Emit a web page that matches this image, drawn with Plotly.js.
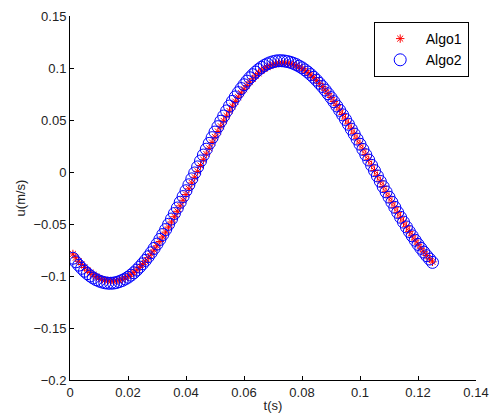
<!DOCTYPE html>
<html>
<head>
<meta charset="utf-8">
<script src="https://cdn.plot.ly/plotly-3.0.1.min.js"></script>
<style>html,body{margin:0;padding:0;background:#fff;}#chart{width:489px;height:417px;}</style>
</head>
<body>
<div id="chart"></div>
<script>
// time samples (s)
const t = [0.001,0.002,0.003,0.004,0.005,0.006,0.007,0.008,0.009,0.010,
0.011,0.012,0.013,0.014,0.015,0.016,0.017,0.018,0.019,0.020,
0.021,0.022,0.023,0.024,0.025,0.026,0.027,0.028,0.029,0.030,
0.031,0.032,0.033,0.034,0.035,0.036,0.037,0.038,0.039,0.040,
0.041,0.042,0.043,0.044,0.045,0.046,0.047,0.048,0.049,0.050,
0.051,0.052,0.053,0.054,0.055,0.056,0.057,0.058,0.059,0.060,
0.061,0.062,0.063,0.064,0.065,0.066,0.067,0.068,0.069,0.070,
0.071,0.072,0.073,0.074,0.075,0.076,0.077,0.078,0.079,0.080,
0.081,0.082,0.083,0.084,0.085,0.086,0.087,0.088,0.089,0.090,
0.091,0.092,0.093,0.094,0.095,0.096,0.097,0.098,0.099,0.100,
0.101,0.102,0.103,0.104,0.105,0.106,0.107,0.108,0.109,0.110,
0.111,0.112,0.113,0.114,0.115,0.116,0.117,0.118,0.119,0.120,
0.121,0.122,0.123,0.124,0.125];

// Algo1 (red asterisks), u in m/s
const algo1 = [-0.0788,-0.0824,-0.0858,-0.0889,-0.0918,-0.0944,-0.0967,-0.0987,-0.1005,-0.1020,
-0.1032,-0.1041,-0.1047,-0.1050,-0.1050,-0.1047,-0.1041,-0.1032,-0.1020,-0.1005,
-0.0987,-0.0967,-0.0944,-0.0918,-0.0889,-0.0858,-0.0824,-0.0788,-0.0750,-0.0710,
-0.0668,-0.0624,-0.0578,-0.0530,-0.0481,-0.0430,-0.0378,-0.0326,-0.0272,-0.0217,
-0.0162,-0.0106,-0.0051,0.0006,0.0062,0.0118,0.0173,0.0228,0.0283,0.0336,
0.0389,0.0440,0.0491,0.0539,0.0587,0.0633,0.0677,0.0719,0.0758,0.0796,
0.0831,0.0864,0.0895,0.0923,0.0948,0.0971,0.0991,0.1008,0.1022,0.1034,
0.1042,0.1047,0.1050,0.1049,0.1046,0.1041,0.1033,0.1022,0.1009,0.0994,
0.0976,0.0956,0.0933,0.0908,0.0881,0.0852,0.0821,0.0788,0.0753,0.0717,
0.0678,0.0638,0.0596,0.0553,0.0509,0.0463,0.0416,0.0368,0.0320,0.0270,
0.0220,0.0169,0.0118,0.0067,0.0015,-0.0036,-0.0087,-0.0139,-0.0190,-0.0240,
-0.0290,-0.0339,-0.0388,-0.0435,-0.0481,-0.0526,-0.0571,-0.0613,-0.0654,-0.0694,
-0.0732,-0.0768,-0.0802,-0.0834,-0.0864];

// Algo2 (blue circles), u in m/s
const algo2 = [-0.0829,-0.0864,-0.0896,-0.0926,-0.0954,-0.0978,-0.1000,-0.1019,-0.1035,-0.1048,
-0.1058,-0.1065,-0.1069,-0.1070,-0.1068,-0.1063,-0.1054,-0.1043,-0.1029,-0.1012,
-0.0992,-0.0969,-0.0943,-0.0914,-0.0883,-0.0850,-0.0814,-0.0776,-0.0735,-0.0693,
-0.0648,-0.0601,-0.0553,-0.0503,-0.0452,-0.0399,-0.0346,-0.0291,-0.0236,-0.0180,
-0.0123,-0.0066,-0.0009,0.0049,0.0106,0.0163,0.0219,0.0275,0.0330,0.0384,
0.0436,0.0488,0.0538,0.0587,0.0634,0.0679,0.0722,0.0763,0.0802,0.0839,
0.0874,0.0906,0.0935,0.0961,0.0985,0.1006,0.1024,0.1039,0.1051,0.1060,
0.1067,0.1070,0.1070,0.1067,0.1062,0.1055,0.1045,0.1033,0.1018,0.1002,
0.0982,0.0961,0.0937,0.0911,0.0883,0.0853,0.0822,0.0788,0.0752,0.0715,
0.0676,0.0635,0.0593,0.0550,0.0505,0.0459,0.0412,0.0365,0.0316,0.0267,
0.0217,0.0166,0.0115,0.0064,0.0013,-0.0038,-0.0090,-0.0141,-0.0191,-0.0242,
-0.0291,-0.0340,-0.0389,-0.0436,-0.0482,-0.0528,-0.0572,-0.0614,-0.0656,-0.0696,
-0.0734,-0.0770,-0.0805,-0.0837,-0.0869];

const seriesNames = ['Algo1', 'Algo2'];
const xTicks = [0, 0.02, 0.04, 0.06, 0.08, 0.1, 0.12, 0.14];
const xTickText = ['0', '0.02', '0.04', '0.06', '0.08', '0.1', '0.12', '0.14'];
const yTicks = [-0.2, -0.15, -0.1, -0.05, 0, 0.05, 0.1, 0.15];
const yTickText = ['\u22120.2', '\u22120.15', '\u22120.1', '\u22120.05', '0', '0.05', '0.1', '0.15'];

const FONT = 'Liberation Sans, Arial, Helvetica, sans-serif';

const traces = [
  {
    x: t, y: algo1, name: seriesNames[0], type: 'scatter', mode: 'markers',
    marker: {symbol: 'asterisk-open', size: 7, color: '#ff0000', line: {color: '#ff0000', width: 1}}
  },
  {
    x: t, y: algo2, name: seriesNames[1], type: 'scatter', mode: 'markers',
    marker: {symbol: 'circle-open', size: 12, color: '#0000ff', line: {color: '#0000ff', width: 1}}
  }
];

const axisCommon = {
  showgrid: false, zeroline: false, showline: true, linecolor: '#000', linewidth: 1,
  ticks: 'inside', ticklen: 4, tickcolor: '#000', tickwidth: 1, mirror: false,
  tickfont: {family: FONT, size: 13, color: '#222'}
};

const layout = {
  width: 489, height: 417,
  margin: {l: 70, r: 13, t: 16, b: 37, pad: 0},
  paper_bgcolor: '#fff', plot_bgcolor: '#fff',
  font: {family: FONT, size: 13, color: '#222'},
  showlegend: true,
  legend: {
    x: 0.982, y: 0.9835, xanchor: 'right', yanchor: 'top',
    bgcolor: '#fff', bordercolor: '#000', borderwidth: 1,
    font: {family: FONT, size: 14, color: '#000'},
    tracegroupgap: 0, itemwidth: 41
  },
  xaxis: Object.assign({}, axisCommon, {
    range: [0, 0.14], tickmode: 'array', tickvals: xTicks, ticktext: xTickText,
    title: {text: 't(s)', font: {family: FONT, size: 13, color: '#222'}, standoff: 2},
    automargin: false
  }),
  yaxis: Object.assign({}, axisCommon, {
    range: [-0.2, 0.15], tickmode: 'array', tickvals: yTicks, ticktext: yTickText,
    title: {text: 'u(m/s)', font: {family: FONT, size: 13, color: '#222'}, standoff: 4},
    automargin: false
  })
};

Plotly.newPlot('chart', traces, layout, {displayModeBar: false, staticPlot: true});
</script>
</body>
</html>
